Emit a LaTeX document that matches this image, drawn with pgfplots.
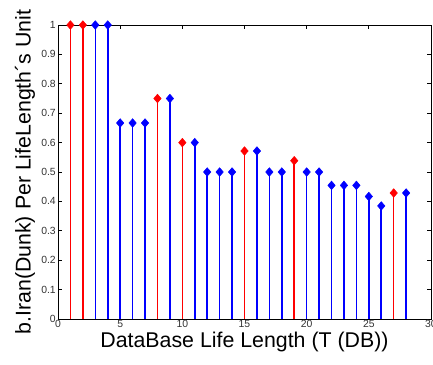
\documentclass[border=0pt]{standalone}
\usepackage{pgfplots}
\pgfplotsset{compat=1.18}
\usepackage{fontspec}
\setmainfont{Liberation Sans}
\begin{document}
\begin{tikzpicture}
\begin{axis}[
  at={(43.5pt,34.5pt)}, anchor=south west,
  scale only axis, width=279.75pt, height=220.5pt,
  xmin=0, xmax=30, ymin=0, ymax=1,
  xtick={0,5,10,15,20,25,30},
  ytick={0,0.1,0.2,0.3,0.4,0.5,0.6,0.7,0.8,0.9,1},
  tick align=inside,
  major tick length=3pt,
  tick style={black, line width=0.5pt},
  axis line style={black, line width=0.6pt},
  /pgf/number format/assume math mode=true,
  /pgf/number format/fixed,
  tick label style={font=\fontsize{7.8}{9}\selectfont, text=black!80},
  xticklabel style={inner sep=1pt},
  yticklabel style={inner sep=1.5pt},
  xlabel={DataBase Life Length (T (DB))},
  ylabel={b.Iran(Dunk) Per LifeLength´s Unit},
  label style={font=\fontsize{16}{18}\selectfont},
  xlabel style={inner sep=0pt, yshift=-2pt},
  ylabel style={inner sep=0pt, yshift=3pt},
  clip=false,
]
\addplot[ycomb, color=red, line width=1.2pt, mark=diamond*, mark size=3.2pt, mark options={fill=red, draw=red, line width=0.4pt, xscale=1.15}]
  coordinates {(1,1) (2,1) (8,0.75) (10,0.6) (15,0.5714) (19,0.5385) (27,0.4286)};
\addplot[ycomb, color=blue, line width=1.2pt, mark=diamond*, mark size=3.2pt, mark options={fill=blue, draw=blue, line width=0.4pt, xscale=1.15}]
  coordinates {(3,1) (4,1) (5,0.6667) (6,0.6667) (7,0.6667) (9,0.75) (11,0.6) (12,0.5) (13,0.5) (14,0.5)
   (16,0.5714) (17,0.5) (18,0.5) (20,0.5) (21,0.5) (22,0.4545) (23,0.4545) (24,0.4545)
   (25,0.4167) (26,0.3846) (28,0.4286)};
\end{axis}
\pgfresetboundingbox
\path[use as bounding box] (0,0) rectangle (324.75pt,273.75pt);
\end{tikzpicture}
\end{document}
